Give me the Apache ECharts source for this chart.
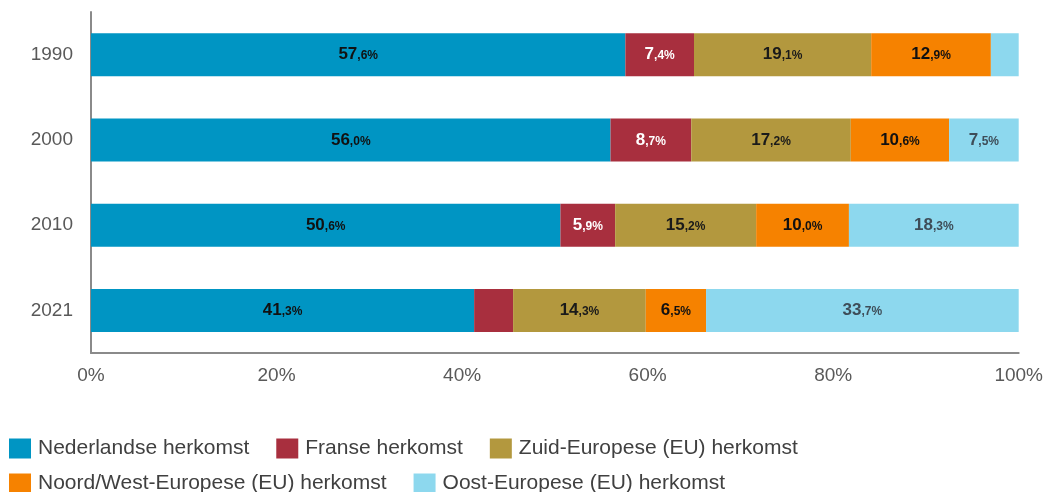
<!DOCTYPE html>
<html><head><meta charset="utf-8">
<script src="https://cdn.jsdelivr.net/npm/echarts@6/dist/echarts.min.js"></script>
<style>html,body{margin:0;padding:0;background:#fff}#c{width:1046px;height:492px}</style>
</head><body><div id="c"></div>
<script>
const categories = ['1990', '2000', '2010', '2021'];
const seriesNames = ['Nederlandse herkomst', 'Franse herkomst', 'Zuid-Europese (EU) herkomst', 'Noord/West-Europese (EU) herkomst', 'Oost-Europese (EU) herkomst'];
const nederlandse = [57.6, 56.0, 50.6, 41.3];
const franse = [7.4, 8.7, 5.9, 4.2];
const zuid = [19.1, 17.2, 15.2, 14.3];
const noordWest = [12.9, 10.6, 10.0, 6.5];
const oost = [3.0, 7.5, 18.3, 33.7];
const xTicks = [0, 20, 40, 60, 80, 100];

const colors = ['#0095C3', '#A82F3E', '#B3983E', '#F68200', '#8DD8EE'];
const labelColors = ['#111', '#fff', '#1a1a1a', '#111', '#3e4d58'];
const values = [nederlandse, franse, zuid, noordWest, oost];
const labelFont = "'Liberation Sans', Arial, sans-serif";

function fmt(p) {
  const v = p.value;
  if (v < 5) return '';
  const s = v.toFixed(1).split('.');
  return '{a|' + s[0] + '}{b|,' + s[1] + '%}';
}

const series = seriesNames.map((n, i) => ({
  name: n, type: 'bar', stack: 'total', barWidth: 43,
  data: values[i],
  itemStyle: { color: colors[i] },
  label: {
    show: true, position: 'inside', formatter: fmt,
    color: labelColors[i], fontFamily: labelFont,
    rich: {
      a: { fontSize: 17, fontWeight: 'bold', color: labelColors[i], fontFamily: labelFont },
      b: { fontSize: 12, fontWeight: 'bold', color: labelColors[i], fontFamily: labelFont, padding: [3, 0, 0, 0] }
    }
  }
}));

const chart = echarts.init(document.getElementById('c'), null, { renderer: 'canvas' });
const legendText = { fontSize: 21, color: '#404040', fontFamily: 'Liberation Sans', padding: [0, 0, 0, 2] };
chart.setOption({
  animation: false,
  grid: { left: 91, right: 27, top: 12, bottom: 139, containLabel: false },
  xAxis: {
    type: 'value', min: 0, max: 100, interval: 20,
    axisLine: { show: true, lineStyle: { color: '#8a8a8a', width: 2 } },
    axisTick: { show: false }, splitLine: { show: false },
    axisLabel: { formatter: v => xTicks.includes(v) ? v + '%' : '', color: '#595959', fontSize: 19, fontFamily: 'Liberation Sans', margin: 13 }
  },
  yAxis: {
    type: 'category', data: categories, inverse: true,
    axisLine: { show: true, lineStyle: { color: '#8a8a8a', width: 2 } },
    axisTick: { show: false },
    axisLabel: { color: '#595959', fontSize: 19, fontFamily: 'Liberation Sans', margin: 18 }
  },
  legend: [
    { data: seriesNames.slice(0, 3), left: 4, top: 433, itemWidth: 22, itemHeight: 20, itemGap: 27, icon: 'rect', textStyle: legendText, selectedMode: false },
    { data: seriesNames.slice(3), left: 4, top: 468, itemWidth: 22, itemHeight: 20, itemGap: 27, icon: 'rect', textStyle: legendText, selectedMode: false }
  ],
  series: series
});
</script></body></html>
